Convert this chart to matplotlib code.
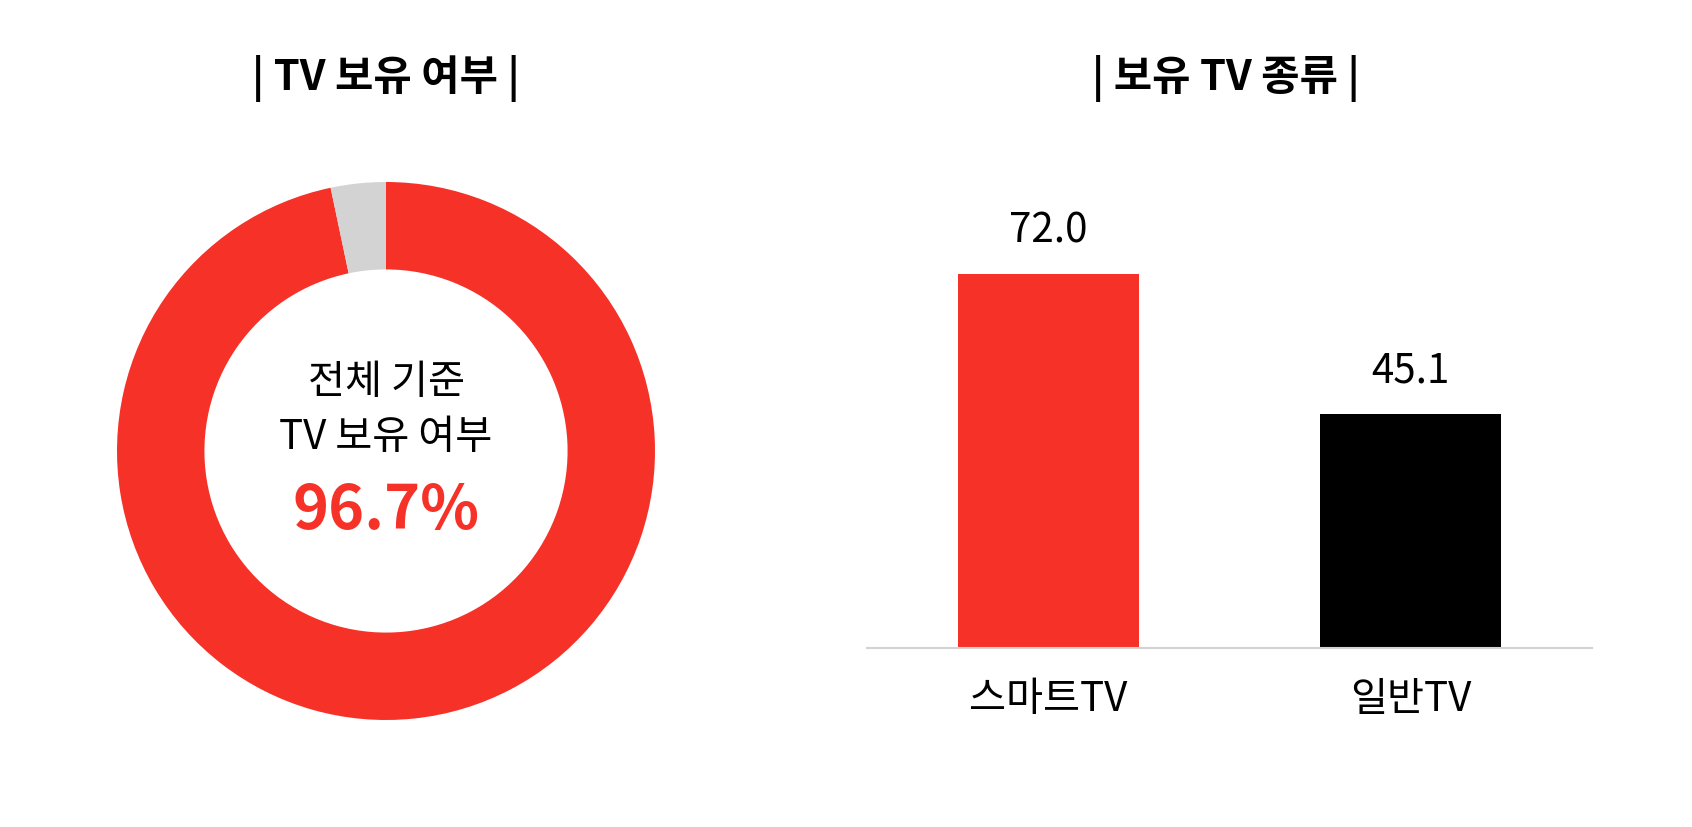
import matplotlib
matplotlib.use("Agg")
import matplotlib.pyplot as plt

plt.rcParams['font.family'] = ['Noto Sans CJK KR', 'DejaVu Sans']

# data
own_labels = ['보유', '미보유']
own_values = [96.7, 3.3]
own_colors = ['#F63128', '#D3D3D3']

tv_types = ['스마트TV', '일반TV']
tv_values = [72.0, 45.1]
tv_colors = ['#F63128', '#000000']

W, H = 1692, 827
fig = plt.figure(figsize=(W / 100, H / 100), dpi=100)


def px_axes(cx, cy, w, h):
    # axes box given in pixel coords (origin top-left)
    return fig.add_axes([(cx - w / 2) / W, 1 - (cy + h / 2) / H, w / W, h / H])


# donut
ax1 = px_axes(386, 451, 538, 538)
ax1.pie(own_values, colors=own_colors, startangle=90, counterclock=False,
        radius=1, wedgeprops=dict(width=0.325, linewidth=0))
ax1.set_xlim(-1, 1)
ax1.set_ylim(-1, 1)
ax1.set_aspect('equal')
ax1.axis('off')
ax1.text(0, 0.255, '전체 기준', ha='center', va='center', fontsize=29)
ax1.text(0, 0.05, 'TV 보유 여부', ha='center', va='center', fontsize=29)
ax1.text(0, -0.225, f'{own_values[0]}%', ha='center', va='center',
         fontsize=44, fontweight='bold', color=own_colors[0])

fig.text(386 / W, 1 - 79 / H, '| TV 보유 여부 |', ha='center', va='center',
         fontsize=30, fontweight='bold')

# bars
ax2 = fig.add_axes([867 / W, 1 - 648 / H, (1592 - 867) / W, 519 / H])
x = range(len(tv_types))
bars = ax2.bar(x, tv_values, width=0.5, color=tv_colors)
ax2.set_xlim(-0.5, 1.5)
ax2.set_ylim(0, 100)
for b, v in zip(bars, tv_values):
    ax2.text(b.get_x() + b.get_width() / 2, v + 8.3, f'{v:.1f}',
             ha='center', va='center', fontsize=29)
ax2.set_xticks(list(x))
ax2.set_xticklabels(tv_types, fontsize=29)
ax2.tick_params(axis='x', length=0, pad=22)
ax2.set_yticks([])
for s in ['top', 'right', 'left']:
    ax2.spines[s].set_visible(False)
ax2.spines['bottom'].set_color('#D3D3D3')
ax2.spines['bottom'].set_linewidth(1.5)

fig.text(1226 / W, 1 - 79 / H, '| 보유 TV 종류 |', ha='center', va='center',
         fontsize=30, fontweight='bold')

fig.savefig('out.png', dpi=100, facecolor='white')
